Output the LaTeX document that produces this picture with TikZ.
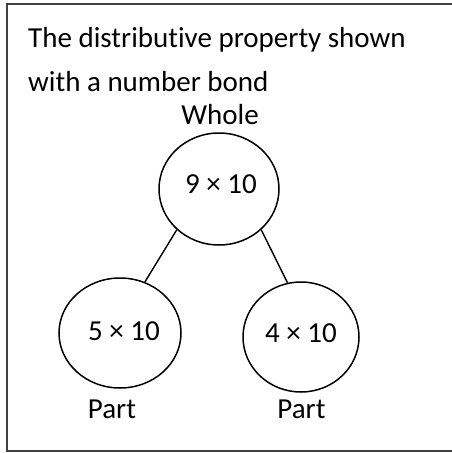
\documentclass[tikz,border=0pt]{standalone}
\usepackage{fontspec}
\setmainfont{Carlito}[Ligatures={NoCommon}]
\usetikzlibrary{shapes.geometric}
\tikzset{
  bond/.style={draw=black, ellipse, inner sep=0pt, line width=1.5pt},
  txt/.style={inner sep=0pt, anchor=base, font=\fontsize{29}{35}\selectfont},
  link/.style={draw=black, line width=1.4pt},
  frame/.style={draw=black!75, line width=1.6pt}
}
\begin{document}
\begin{tikzpicture}[x=1pt,y=-1pt]
\useasboundingbox (0,0) rectangle (452,453);
\draw[frame] (460,4) -- (7,4) -- (7,451) -- (460,451);
\node[txt, anchor=base west] (t1) at (28,47) {The distributive property shown};
\node[txt, anchor=base west] (t2) at (28,91) {with a number bond};
\node[txt] (whole) at (220,124) {Whole};
\node[bond, minimum width=120pt, minimum height=112pt] (top) at (219,189) {};
\node[bond, minimum width=122pt, minimum height=110pt] (left) at (120,333) {};
\node[bond, minimum width=116pt, minimum height=110pt] (right) at (301,337) {};
\node[txt] (ttop) at (221,193) {9 × 10};
\node[txt] (tleft) at (124,340) {5 × 10};
\node[txt] (tright) at (301,342) {4 × 10};
\node[txt] (p1) at (112,418) {Part};
\node[txt] (p2) at (301.5,418) {Part};
\draw[link] (top.224) -- (left.64);
\draw[link] (top.316) -- (right.104);
\end{tikzpicture}
\end{document}
